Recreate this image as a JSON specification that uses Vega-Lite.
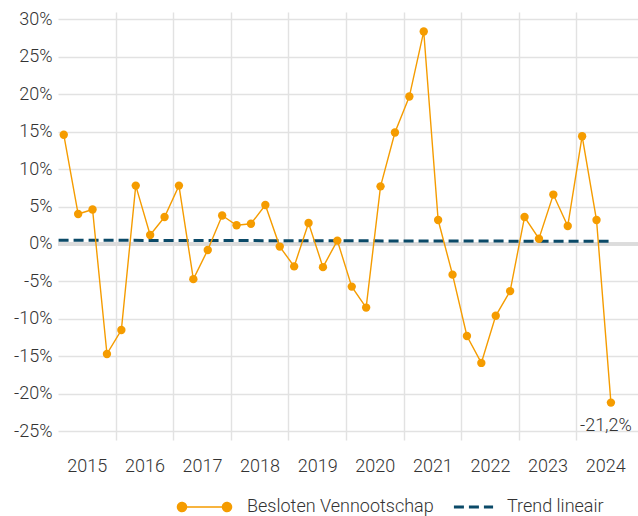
{
  "$schema": "https://vega.github.io/schema/vega-lite/v6.json",
  "width": 580,
  "height": 428,
  "autosize": {"type": "none"},
  "padding": {"left": 58, "top": 12, "right": 0, "bottom": 76},
  "background": "white",
  "config": {
    "view": {"stroke": null},
    "font": "Roboto",
    "axis": {"grid": true, "labelFont": "Roboto", "labelFontSize": 18, "labelFontWeight": 300, "labelColor": "#333333", "domain": false, "ticks": false, "gridColor": "#e2e2e2", "gridWidth": 1.4},
    "legend": {"labelFont": "Roboto", "labelFontSize": 18, "labelFontWeight": 300, "labelColor": "#333333", "labelLimit": 400}
  },
  "data": {
    "values": [
      {"t": 2015.10, "value": 14.6, "series": "Besloten Vennootschap"},
      {"t": 2015.35, "value": 4.0, "series": "Besloten Vennootschap"},
      {"t": 2015.60, "value": 4.6, "series": "Besloten Vennootschap"},
      {"t": 2015.85, "value": -14.7, "series": "Besloten Vennootschap"},
      {"t": 2016.10, "value": -11.5, "series": "Besloten Vennootschap"},
      {"t": 2016.35, "value": 7.8, "series": "Besloten Vennootschap"},
      {"t": 2016.60, "value": 1.2, "series": "Besloten Vennootschap"},
      {"t": 2016.85, "value": 3.6, "series": "Besloten Vennootschap"},
      {"t": 2017.10, "value": 7.8, "series": "Besloten Vennootschap"},
      {"t": 2017.35, "value": -4.7, "series": "Besloten Vennootschap"},
      {"t": 2017.60, "value": -0.8, "series": "Besloten Vennootschap"},
      {"t": 2017.85, "value": 3.8, "series": "Besloten Vennootschap"},
      {"t": 2018.10, "value": 2.5, "series": "Besloten Vennootschap"},
      {"t": 2018.35, "value": 2.7, "series": "Besloten Vennootschap"},
      {"t": 2018.60, "value": 5.2, "series": "Besloten Vennootschap"},
      {"t": 2018.85, "value": -0.35, "series": "Besloten Vennootschap"},
      {"t": 2019.10, "value": -3.0, "series": "Besloten Vennootschap"},
      {"t": 2019.35, "value": 2.8, "series": "Besloten Vennootschap"},
      {"t": 2019.60, "value": -3.1, "series": "Besloten Vennootschap"},
      {"t": 2019.85, "value": 0.45, "series": "Besloten Vennootschap"},
      {"t": 2020.10, "value": -5.7, "series": "Besloten Vennootschap"},
      {"t": 2020.35, "value": -8.5, "series": "Besloten Vennootschap"},
      {"t": 2020.60, "value": 7.7, "series": "Besloten Vennootschap"},
      {"t": 2020.85, "value": 14.9, "series": "Besloten Vennootschap"},
      {"t": 2021.10, "value": 19.7, "series": "Besloten Vennootschap"},
      {"t": 2021.35, "value": 28.4, "series": "Besloten Vennootschap"},
      {"t": 2021.60, "value": 3.2, "series": "Besloten Vennootschap"},
      {"t": 2021.85, "value": -4.1, "series": "Besloten Vennootschap"},
      {"t": 2022.10, "value": -12.3, "series": "Besloten Vennootschap"},
      {"t": 2022.35, "value": -15.9, "series": "Besloten Vennootschap"},
      {"t": 2022.60, "value": -9.6, "series": "Besloten Vennootschap"},
      {"t": 2022.85, "value": -6.3, "series": "Besloten Vennootschap"},
      {"t": 2023.10, "value": 3.6, "series": "Besloten Vennootschap"},
      {"t": 2023.35, "value": 0.7, "series": "Besloten Vennootschap"},
      {"t": 2023.60, "value": 6.6, "series": "Besloten Vennootschap"},
      {"t": 2023.85, "value": 2.4, "series": "Besloten Vennootschap"},
      {"t": 2024.10, "value": 14.4, "series": "Besloten Vennootschap"},
      {"t": 2024.35, "value": 3.2, "series": "Besloten Vennootschap"},
      {"t": 2024.60, "value": -21.2, "series": "Besloten Vennootschap", "label": "-21,2%"},
      {"t": 2015.01, "value": 0.5, "series": "Trend lineair"},
      {"t": 2024.63, "value": 0.35, "series": "Trend lineair"}
    ]
  },
  "layer": [
    {
      "mark": {"type": "rule", "color": "#dcdcdc", "strokeWidth": 3.5},
      "encoding": {
        "y": {"datum": 0, "type": "quantitative", "scale": {"domain": [-26.2, 31], "nice": false, "zero": false}}
      }
    },
    {
      "transform": [{"filter": "datum.series === 'Trend lineair'"}],
      "mark": {"type": "line", "strokeDash": [10, 5], "strokeWidth": 3},
      "encoding": {
        "x": {"field": "t", "type": "quantitative", "title": null, "scale": {"domain": [2015, 2025.07], "nice": false, "zero": false}},
        "y": {"field": "value", "type": "quantitative", "title": null, "scale": {"domain": [-26.2, 31], "nice": false, "zero": false}},
        "color": {"field": "series", "type": "nominal", "title": null, "scale": {"domain": ["Besloten Vennootschap", "Trend lineair"], "range": ["#f59c00", "#0b4a68"]}}
      }
    },
    {
      "transform": [{"filter": "datum.series === 'Besloten Vennootschap'"}],
      "mark": {"type": "line", "strokeWidth": 1.4, "point": {"filled": true, "size": 70}},
      "encoding": {
        "x": {
          "field": "t", "type": "quantitative", "title": null,
          "scale": {"domain": [2015, 2025.07], "nice": false, "zero": false},
          "axis": {
            "grid": true,
            "tickCount": 100,
            "values": [2015.5, 2016, 2016.5, 2017, 2017.5, 2018, 2018.5, 2019, 2019.5, 2020, 2020.5, 2021, 2021.5, 2022, 2022.5, 2023, 2023.5, 2024, 2024.5],
            "labelExpr": "datum.value % 1 === 0 ? '' : '' + floor(datum.value)",
            "gridOpacity": {"condition": {"test": "datum.value % 1 !== 0", "value": 0}, "value": 1},
            "labelOverlap": false,
            "labelFlush": false,
            "labelPadding": 17
          }
        },
        "y": {
          "field": "value", "type": "quantitative", "title": null,
          "scale": {"domain": [-26.2, 31], "nice": false, "zero": false},
          "axis": {
            "grid": true,
            "tickCount": 100,
            "values": [-25, -20, -15, -10, -5, 0, 5, 10, 15, 20, 25, 30],
            "labelExpr": "datum.value + '%'",
            "labelOverlap": false,
            "labelPadding": 6
          }
        },
        "color": {
          "field": "series", "type": "nominal", "title": null,
          "scale": {"domain": ["Besloten Vennootschap", "Trend lineair"], "range": ["#f59c00", "#0b4a68"]},
          "legend": {
            "orient": "none",
            "direction": "horizontal",
            "legendX": 137.5,
            "legendY": 486,
            "symbolSize": 2025,
            "symbolStrokeWidth": 1.5,
            "labelOffset": 33.5,
            "labelLimit": 400,
            "columnPadding": 13,
            "encode": {
              "symbols": {
                "update": {
                  "shape": {"signal": "datum.value === 'Trend lineair' ? 'M-0.47,0L1.27,0' : 'M-1,0L1,0M-1.2,0A0.2,0.2,0,1,0,-0.8,0A0.2,0.2,0,1,0,-1.2,0ZM0.8,0A0.2,0.2,0,1,0,1.2,0A0.2,0.2,0,1,0,0.8,0Z'"},
                  "strokeDash": {"signal": "datum.value === 'Trend lineair' ? [10, 5] : [1, 0]"},
                  "strokeWidth": {"signal": "datum.value === 'Trend lineair' ? 3 : 1.5"},
                  "fill": {"signal": "datum.value === 'Trend lineair' ? 'transparent' : '#f59c00'"},
                  "fillOpacity": {"value": 1}
                }
              }
            }
          }
        }
      }
    },
    {
      "transform": [{"filter": "datum.label"}],
      "mark": {"type": "text", "fontSize": 18, "fontWeight": 300, "font": "Roboto", "color": "#333333", "dy": 23, "dx": -5},
      "encoding": {
        "x": {"field": "t", "type": "quantitative", "scale": {"domain": [2015, 2025.07], "nice": false, "zero": false}},
        "y": {"field": "value", "type": "quantitative", "scale": {"domain": [-26.2, 31], "nice": false, "zero": false}},
        "text": {"field": "label"}
      }
    }
  ]
}
